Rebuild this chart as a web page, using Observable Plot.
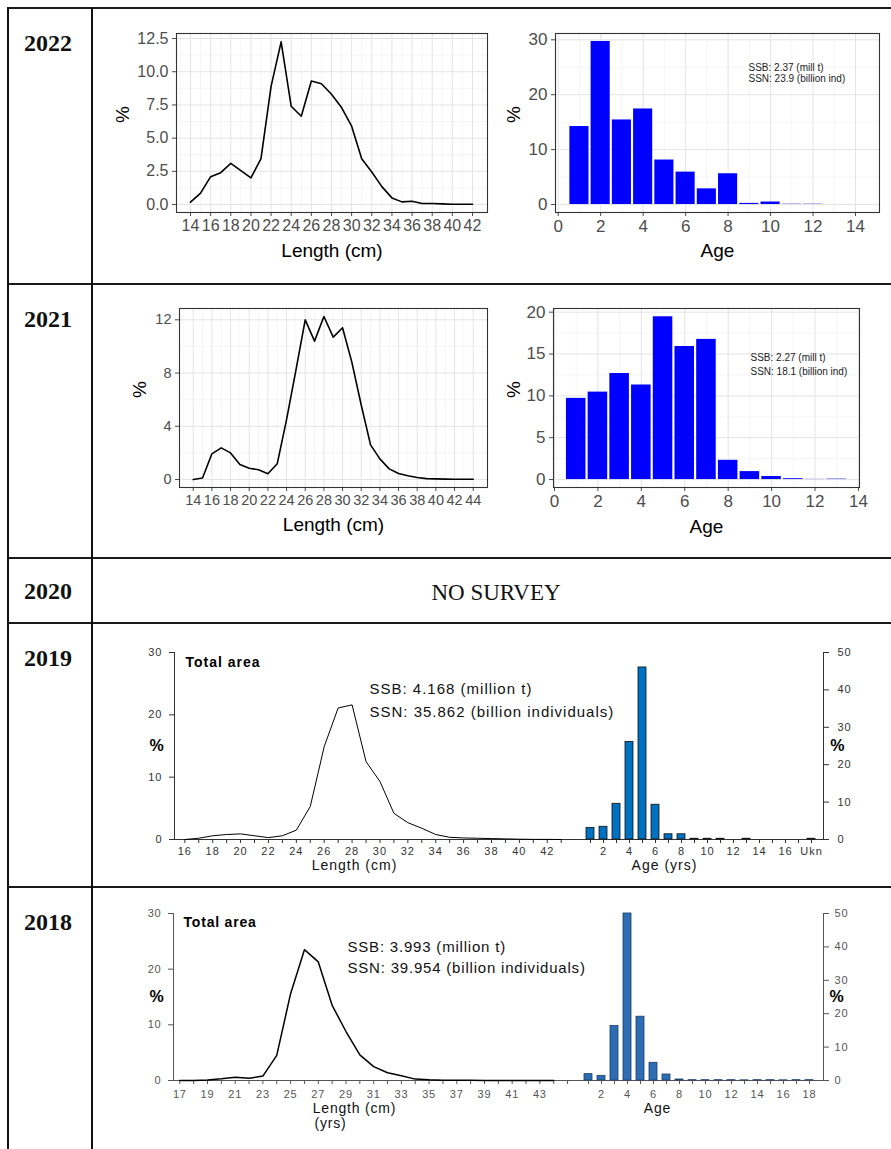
<!DOCTYPE html>
<html><head><meta charset="utf-8">
<script src="https://cdn.jsdelivr.net/npm/d3@7"></script>
<script src="https://cdn.jsdelivr.net/npm/@observablehq/plot@0.6"></script>
<style>
html,body{margin:0;padding:0;background:#fff;}
#page{position:relative;width:891px;height:1149px;overflow:hidden;background:#fff;}
.panel{position:absolute;}
.panel svg{display:block;}
</style></head><body><div id="page"></div>
<script>
// ---------------- DATA ----------------
const years = ["2022", "2021", "2020", "2019", "2018"];
const noSurveyText = "NO SURVEY";

// 2022
const len2022 = d3.range(14, 43);
const lenPct2022 = [0.18,0.86,2.1,2.4,3.1,2.55,2.0,3.45,8.9,12.25,7.4,6.65,9.3,9.1,8.3,7.3,5.9,3.45,2.45,1.35,0.5,0.2,0.25,0.08,0.08,0.05,0.02,0.02,0.02];
const age2022 = d3.range(1, 15);
const agePct2022 = [14.2,29.7,15.4,17.4,8.1,5.9,2.85,5.6,0.2,0.45,0.05,0.05,0,0];
const ssb2022 = "SSB: 2.37 (mill t)\nSSN: 23.9 (billion ind)";

// 2021
const len2021 = d3.range(14, 45);
const lenPct2021 = [0,0.12,1.93,2.38,2.0,1.13,0.85,0.73,0.43,1.18,4.5,8.2,12.0,10.4,12.25,10.7,11.4,8.8,5.6,2.6,1.55,0.8,0.45,0.28,0.15,0.07,0.05,0.03,0.02,0.02,0.02];
const age2021 = d3.range(1, 15);
const agePct2021 = [9.7,10.45,12.67,11.3,19.45,15.9,16.75,2.3,0.95,0.36,0.1,0.02,0.05,0];
const ssb2021 = "SSB: 2.27 (mill t)\nSSN: 18.1 (billion ind)";

// 2019
const len2019 = d3.range(16, 44);
const lenPct2019 = [0,0.2,0.6,0.8,0.9,0.6,0.3,0.6,1.5,5.3,14.9,21.1,21.6,12.5,9.3,4.2,2.7,1.8,0.8,0.35,0.25,0.2,0.15,0.1,0.05,0.02,0.02,0];
const age2019 = ["1","2","3","4","5","6","7","8","9","10","11","12","13","14","15","16","17","Ukn"];
const agePct2019 = [3.1,3.4,9.55,26.1,46,9.3,1.4,1.4,0.2,0.2,0.2,0,0.2,0,0,0,0,0.2];
const ssb2019 = "SSB: 4.168 (million t)\nSSN: 35.862 (billion individuals)";

// 2018
const len2018 = d3.range(17, 45);
const lenPct2018 = [0,0.02,0.1,0.3,0.6,0.4,0.8,4.5,15.6,23.5,21.3,13.5,8.8,4.6,2.5,1.4,0.85,0.25,0.12,0.05,0.03,0.03,0.02,0.02,0.01,0.01,0.01,0.01];
const age2018 = ["1","2","3","4","5","6","7","8","9","10","11","12","13","14","15","16","17","18"];
const agePct2018 = [1.9,1.4,16.3,50,19.1,5.3,1.8,0.3,0.1,0.1,0.1,0.1,0.05,0.1,0.1,0.05,0.1,0.1];
const ssb2018 = "SSB: 3.993 (million t)\nSSN: 39.954 (billion individuals)";

const totalArea = "Total area";

// ---------------- LAYOUT HELPERS ----------------
const page = document.getElementById("page");
const SANS = "'Liberation Sans', Arial, Helvetica, sans-serif";
const SERIF = "'Liberation Serif', 'Times New Roman', serif";

function place(node, left, top) {
  const d = document.createElement("div");
  d.className = "panel";
  d.style.left = left + "px";
  d.style.top = top + "px";
  d.appendChild(node);
  page.appendChild(d);
}

// table frame (background)
(function table() {
  const svg = d3.create("svg").attr("width", 891).attr("height", 1149)
    .style("position", "absolute").style("left", 0).style("top", 0);
  const hs = [8, 284, 558, 623, 887];
  hs.forEach(y => svg.append("line").attr("x1", 7).attr("x2", 891).attr("y1", y).attr("y2", y)
    .attr("stroke", "#1a1a1a").attr("stroke-width", 1.8));
  [8, 92].forEach(x => svg.append("line").attr("x1", x).attr("x2", x).attr("y1", 7).attr("y2", 1149)
    .attr("stroke", "#111").attr("stroke-width", 2));
  const base = [51, 327, 599, 666, 930];
  years.forEach((yr, i) => svg.append("text").attr("x", 24).attr("y", base[i])
    .attr("font-family", SERIF).attr("font-weight", "bold").attr("font-size", 24).attr("fill", "#111").text(yr));
  svg.append("text").attr("x", 496).attr("y", 600).attr("text-anchor", "middle")
    .attr("font-family", SERIF).attr("font-size", 23).attr("fill", "#111").text(noSurveyText);
  page.appendChild(svg.node());
})();

// ggplot-like panel
function ggPanel(o) {
  return Plot.plot({
    width: o.width, height: o.height,
    marginLeft: o.mL, marginRight: o.mR, marginTop: o.mT, marginBottom: o.mB,
    style: {fontFamily: SANS, fontSize: o.tickFont + "px", color: "#4d4d4d", background: "transparent", overflow: "visible"},
    x: {domain: o.xDomain, ticks: o.xTicks, tickSize: 4, tickPadding: 3, label: null, tickFormat: o.xFmt || (d => d)},
    y: {domain: o.yDomain, ticks: o.yTicks, tickSize: 4, tickPadding: 4, label: null, tickFormat: o.yFmt || (d => d)},
    marks: [
      Plot.ruleX(o.xMinor, {stroke: "#f2f2f2", strokeWidth: 0.8}),
      Plot.ruleY(o.yMinor, {stroke: "#f2f2f2", strokeWidth: 0.8}),
      Plot.ruleX(o.xTicks, {stroke: "#e4e4e4", strokeWidth: 1}),
      Plot.ruleY(o.yTicks, {stroke: "#e4e4e4", strokeWidth: 1}),
      ...o.marks,
      Plot.frame({stroke: "#333", strokeWidth: 1.1}),
      Plot.text([o.xTitle], {text: d => d, frameAnchor: "bottom", dy: o.xTitleDy, lineAnchor: "top", fontSize: 19, fill: "#000"}),
      Plot.text(["%"], {text: d => d, frameAnchor: "left", dx: o.yTitleDx, rotate: -90, lineAnchor: "middle", fontSize: 19, fill: "#000"}),
      ...(o.extra || [])
    ]
  });
}

function lineData(xs, ys) { return xs.map((x, i) => ({len: x, pct: ys[i]})); }
function ageData(xs, ys) { return xs.map((x, i) => ({age: x, pct: ys[i]})); }

// ---------- 2022 ----------
place(ggPanel({
  width: 383, height: 245, mL: 64, mR: 8, mT: 13, mB: 53, tickFont: 16,
  xDomain: [12.61, 43.49], xTicks: d3.range(14, 43, 2), xMinor: d3.range(13, 44, 2),
  yDomain: [-0.6, 12.88], yTicks: [0, 2.5, 5, 7.5, 10, 12.5], yMinor: [1.25, 3.75, 6.25, 8.75, 11.25],
  yFmt: d3.format(".1f"), xTitle: "Length (cm)", xTitleDy: 31, yTitleDx: -54,
  marks: [Plot.line(lineData(len2022, lenPct2022), {x: "len", y: "pct", stroke: "#000", strokeWidth: 1.6})]
}), 112, 20);

place(ggPanel({
  width: 382, height: 245, mL: 51, mR: 7, mT: 13, mB: 53, tickFont: 17,
  xDomain: [-0.127, 15.13], xTicks: d3.range(0, 15, 2), xMinor: d3.range(1, 16, 2),
  yDomain: [-1.46, 31.15], yTicks: [0, 10, 20, 30], yMinor: [5, 15, 25],
  xTitle: "Age", xTitleDy: 31, yTitleDx: -42,
  marks: [Plot.rectY(ageData(age2022, agePct2022), {x1: d => d.age - 0.45, x2: d => d.age + 0.45, y1: d => 0, y2: "pct", fill: "#0000ff"})],
  extra: [Plot.text([ssb2022], {text: d => d, frameAnchor: "top-left", dx: 193, dy: 30, textAnchor: "start", lineAnchor: "top", fontSize: 10, lineHeight: 1.1, fill: "#222"})]
}), 504, 20);

// ---------- 2021 ----------
place(ggPanel({
  width: 365, height: 245, mL: 49, mR: 8, mT: 13, mB: 53, tickFont: 14.5,
  xDomain: [12.53, 45.53], xTicks: d3.range(14, 45, 2), xMinor: d3.range(13, 46, 2),
  yDomain: [-0.6, 12.85], yTicks: [0, 4, 8, 12], yMinor: [2, 6, 10],
  xTitle: "Length (cm)", xTitleDy: 30, yTitleDx: -40,
  marks: [Plot.line(lineData(len2021, lenPct2021), {x: "len", y: "pct", stroke: "#000", strokeWidth: 1.6})]
}), 130, 295);

place(ggPanel({
  width: 382, height: 245, mL: 49, mR: 27, mT: 13, mB: 53, tickFont: 17,
  xDomain: [-0.046, 14.05], xTicks: d3.range(0, 15, 2), xMinor: d3.range(1, 14, 2),
  yDomain: [-0.95, 20.44], yTicks: [0, 5, 10, 15, 20], yMinor: [2.5, 7.5, 12.5, 17.5],
  xTitle: "Age", xTitleDy: 32, yTitleDx: -40,
  marks: [Plot.rectY(ageData(age2021, agePct2021), {x1: d => d.age - 0.45, x2: d => d.age + 0.45, y1: d => 0, y2: "pct", fill: "#0000ff"})],
  extra: [Plot.text([ssb2021], {text: d => d, frameAnchor: "top-left", dx: 197, dy: 43, textAnchor: "start", lineAnchor: "top", fontSize: 10, lineHeight: 1.4, fill: "#222"})]
}), 504, 295);

// ---------- Excel-like panels ----------
function excelLeft(o) {
  return Plot.plot({
    width: o.width, height: o.height,
    marginLeft: o.mL, marginRight: 0, marginTop: o.mT, marginBottom: o.mB,
    style: {fontFamily: SANS, fontSize: "11px", letterSpacing: o.ls + "px", color: o.color, background: "transparent", overflow: "visible"},
    x: {domain: o.xDomain, ticks: o.xTicks, tickFormat: o.xFmt, tickSize: 4, tickPadding: o.xPad, line: true, label: null},
    y: {domain: [0, 30], ticks: [0, 10, 20, 30], tickSize: 5, tickPadding: 7, line: true, label: null},
    marks: [
      Plot.line(lineData(o.len, o.pct), {x: "len", y: "pct", stroke: "#000", strokeWidth: o.lw}),
      Plot.text([totalArea], {text: d => d, frameAnchor: "top-left", dx: o.taDx, dy: o.taDy, textAnchor: "start", lineAnchor: "top", fontSize: 14, fontWeight: "bold", fill: "#000"}),
      Plot.text([o.ssb], {text: d => d, frameAnchor: "top-left", dx: o.ssbDx, dy: o.ssbDy, textAnchor: "start", lineAnchor: "top", fontSize: 15, lineHeight: o.ssbLH, fill: "#111"}),
      Plot.text(["%"], {text: d => d, frameAnchor: "left", dx: o.pDx, lineAnchor: "middle", fontSize: 16, fontWeight: "bold", fill: "#000"}),
      ...o.titles.map(t => Plot.text([t.text], {text: d => d, frameAnchor: "bottom-left", dx: t.dx, dy: t.dy, textAnchor: "middle", lineAnchor: "top", fontSize: 14, fill: "#111"}))
    ]
  });
}
function excelRight(o) {
  return Plot.plot({
    width: o.width, height: o.height,
    marginLeft: 0, marginRight: o.mR, marginTop: o.mT, marginBottom: o.mB,
    style: {fontFamily: SANS, fontSize: "11px", letterSpacing: o.ls + "px", color: o.color, background: "transparent", overflow: "visible"},
    x: {type: "band", domain: o.ages, paddingInner: 0.4, paddingOuter: o.pOut, align: 0.5, tickSize: 4, tickPadding: o.xPad, line: true, label: null,
        tickFormat: d => (d === "Ukn" || (+d) % 2 === 0) ? d : ""},
    y: {axis: "right", domain: [0, 50], ticks: [0, 10, 20, 30, 40, 50], tickSize: 5, tickPadding: o.yPad, line: true, label: null},
    marks: [
      Plot.barY(ageData(o.ages, o.pct), {x: "age", y: "pct", fill: o.fill, stroke: o.stroke, strokeWidth: 0.8}),
      Plot.text(["%"], {text: d => d, frameAnchor: "right", dx: o.pDx, lineAnchor: "middle", fontSize: 16, fontWeight: "bold", fill: "#000"}),
      Plot.text([o.title], {text: d => d, frameAnchor: "bottom-left", dx: o.tDx, dy: o.tDy, textAnchor: "middle", lineAnchor: "top", fontSize: 14, fill: "#111"})
    ]
  });
}

// ---------- 2019 ----------
place(excelLeft({
  width: 447, height: 231, mL: 44, mT: 8, mB: 36, ls: 1, color: "#333", lw: 1,
  xDomain: [15.26, 44.17], xTicks: d3.range(16, 44), xFmt: d => d % 2 === 0 ? d : "", xPad: 4,
  len: len2019, pct: lenPct2019, ssb: ssb2019, ssbLH: 1.53,
  taDx: 11, taDy: 5, ssbDx: 195, ssbDy: 25, pDx: -25,
  titles: [{text: "Length (cm)", dx: 180, dy: 21}]
}), 130, 644);
place(excelRight({
  width: 293, height: 231, mR: 47, mT: 8, mB: 36, ls: 1, color: "#333",
  ages: age2019, pct: agePct2019, pOut: 0.045, xPad: 4, yPad: 9,
  fill: "#0070c0", stroke: "#111", pDx: 22, title: "Age (yrs)", tDx: 87, tDy: 21
}), 577, 644);

// ---------- 2018 ----------
place(excelLeft({
  width: 444, height: 225, mL: 43, mT: 8, mB: 50, ls: 0.8, color: "#555", lw: 1.5,
  xDomain: [16.545, 45.5], xTicks: d3.range(17, 46), xFmt: d => d % 2 === 1 && d <= 43 ? d : "", xPad: 6,
  len: len2018, pct: lenPct2018, ssb: ssb2018, ssbLH: 1.4,
  taDx: 10, taDy: 4, ssbDx: 174, ssbDy: 24, pDx: -24,
  titles: [{text: "Length (cm)", dx: 181, dy: 23}, {text: "(yrs)", dx: 157, dy: 38}]
}), 130, 905);
place(excelRight({
  width: 296, height: 225, mR: 47, mT: 8, mB: 50, ls: 0.8, color: "#555",
  ages: age2018, pct: agePct2018, pOut: 0.116, xPad: 6, yPad: 6,
  fill: "#2e6db4", stroke: "#1b3d66", pDx: 21, title: "Age", tDx: 83, tDy: 23
}), 574, 905);
</script>
</body></html>
